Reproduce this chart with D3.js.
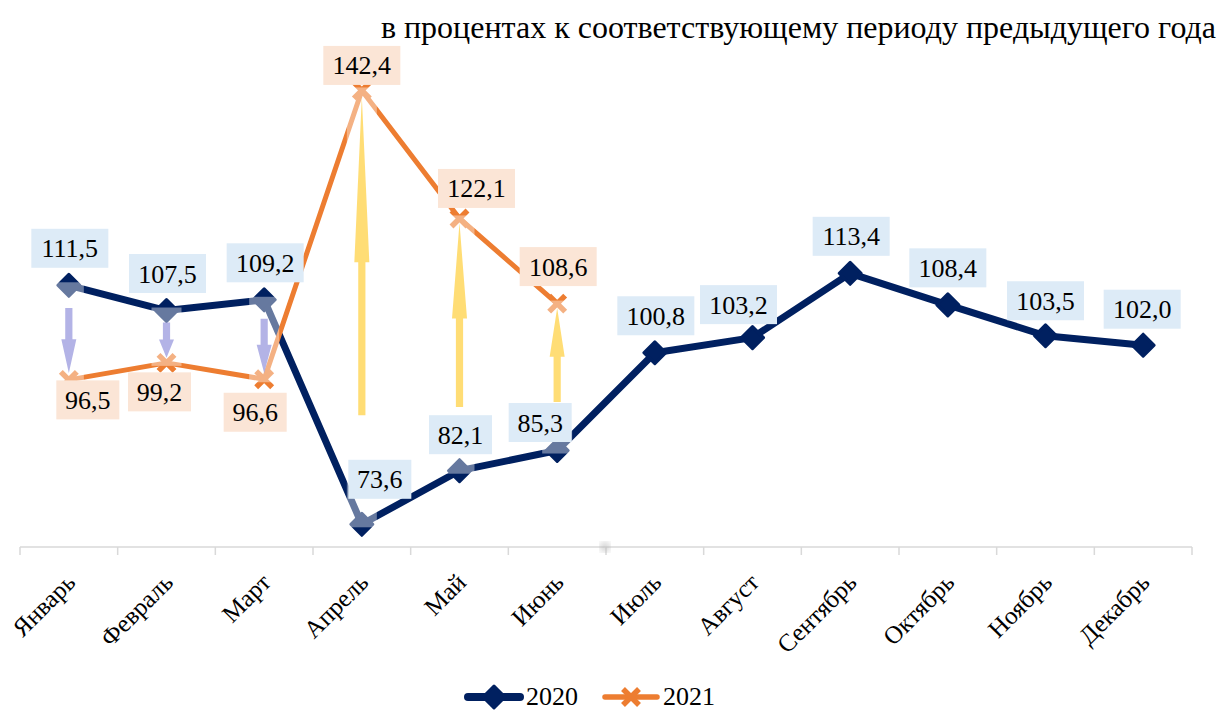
<!DOCTYPE html>
<html>
<head>
<meta charset="utf-8">
<script src="https://cdn.jsdelivr.net/npm/d3@7/dist/d3.min.js"></script>
<style>
  #viz text { font-family: "Liberation Serif", serif; }
</style>
</head>
<body style="margin:0">
<svg id="viz" width="1222" height="711"></svg>
<script>
// ---------- data ----------
const months = ["Январь","Февраль","Март","Апрель","Май","Июнь","Июль","Август","Сентябрь","Октябрь","Ноябрь","Декабрь"];
const values2020 = [111.5, 107.5, 109.2, 73.6, 82.1, 85.3, 100.8, 103.2, 113.4, 108.4, 103.5, 102.0];
const values2021 = [96.5, 99.2, 96.6, 142.4, 122.1, 108.6];
const seriesNames = ["2020", "2021"];
const titleText = "в процентах к соответствующему периоду предыдущего года";
// change arrows (from / to, in index units)
const arrowFrom = [107.9, 105.6, 106.2, 90.9, 92.2, 93.0];
const arrowTo   = [97.6, 100.0, 97.6, 141.4, 121.4, 107.9];

// ---------- layout (not data) ----------
const colors = { s2020: "#002060", s2021: "#ED7D31", lab2020: "#DDEBF7", lab2021: "#FBE5D6",
                 axis: "#D9D9D9", down: "#9999DD", up: "#FFD966" };
const off2020 = [[1,-37],[1,-37],[1,-37],[18,-45],[1,-36],[-17,-28],[1,-37],[-14,-33],[1,-37],[0,-37],[0,-35],[-1,-36]];
const off2021 = [[19,20],[-7,29],[-9,33],[0,-25],[17,-30],[1,-37]];

const svg = d3.select("#viz");
const x = d3.scalePoint().domain(months).range([20, 1192]).padding(0.5);
const band = d3.scaleBand().domain(months).range([20, 1192]);
const y = d3.scaleLinear().domain([70, 150]).range([547, 42.5]);

function txt(sel, size) {
  return sel.style("font-family", "\"Liberation Serif\"").style("font-size", size + "px").attr("fill", "#000");
}

// title
txt(svg.append("text"), 32).attr("x", 1216).attr("y", 38).attr("text-anchor", "end").text(titleText);

// axis line + ticks
const axisG = svg.append("g");
axisG.append("line").attr("x1", band.range()[0]).attr("x2", band.range()[1])
  .attr("y1", y(70)).attr("y2", y(70)).attr("stroke", colors.axis).attr("stroke-width", 1.5);
const tickXs = months.map(m => band(m)).concat([band.range()[1]]);
axisG.selectAll("line.tick").data(tickXs).join("line").attr("class","tick")
  .attr("x1", d => d).attr("x2", d => d).attr("y1", y(70)).attr("y2", y(70) + 8)
  .attr("stroke", colors.axis).attr("stroke-width", 1.5);
txt(axisG.selectAll("text.cat").data(months).join("text").attr("class","cat"), 25)
  .attr("text-anchor", "end")
  .attr("transform", d => `translate(${x(d) + 8},${y(70) + 37}) rotate(-45)`)
  .text(d => d);

// faint artifact on axis
const defs = svg.append("defs");
defs.append("filter").attr("id","blur").append("feGaussianBlur").attr("stdDeviation", 3);
svg.append("circle").attr("cx", 605).attr("cy", 547).attr("r", 5).attr("fill", "#bbb")
  .attr("filter", "url(#blur)").attr("opacity", 0.7);

const line = d3.line().x((d, i) => x(months[i])).y(d => y(d));

// 2020 series
const diamond = (s) => `M0,${-s}L${s},0L0,${s}L${-s},0Z`;
svg.append("path").datum(values2020).attr("d", line).attr("fill", "none")
  .attr("stroke", colors.s2020).attr("stroke-width", 7).attr("stroke-linejoin", "round");
svg.selectAll("path.m20").data(values2020).join("path").attr("class","m20")
  .attr("d", diamond(11)).attr("transform", (d, i) => `translate(${x(months[i])},${y(d)})`)
  .attr("fill", colors.s2020).attr("stroke", colors.s2020).attr("stroke-width", 3).attr("stroke-linejoin", "round");

// 2021 series
const cross = (s) => `M${-s},${-s}L${s},${s}M${s},${-s}L${-s},${s}`;
svg.append("path").datum(values2021).attr("d", line).attr("fill", "none")
  .attr("stroke", colors.s2021).attr("stroke-width", 5).attr("stroke-linejoin", "round");
svg.selectAll("path.m21").data(values2021).join("path").attr("class","m21")
  .attr("d", cross(8)).attr("transform", (d, i) => `translate(${x(months[i])},${y(d)})`)
  .attr("fill", "none").attr("stroke", colors.s2021).attr("stroke-width", 5.5);

// arrows with translucent panels
const arrowG = svg.append("g");
arrowFrom.forEach((f, i) => {
  const cx = x(months[i]);
  const a = values2020[i], b = values2021[i];
  const top = Math.min(y(a), y(b)) - 3, bot = Math.max(y(a), y(b)) + 3;
  arrowG.append("rect").attr("x", cx - 15).attr("y", top).attr("width", 30).attr("height", bot - top)
    .attr("fill", "#ffffff").attr("opacity", 0.4);
  const y0 = y(f), y1 = y(arrowTo[i]);
  const len = y1 - y0;
  const headLen = len * 0.52;
  const sw = 3.6, hw = 7.5;
  const yh = y1 - headLen;
  const p = `M${cx - sw},${y0}L${cx + sw},${y0}L${cx + sw},${yh}L${cx + hw},${yh}L${cx},${y1}L${cx - hw},${yh}L${cx - sw},${yh}Z`;
  arrowG.append("path").attr("d", p)
    .attr("fill", b < a ? colors.down : colors.up).attr("opacity", b < a ? 0.75 : 0.9);
});

// labels
function addLabels(vals, offs, bg) {
  const g = svg.append("g");
  vals.forEach((v, i) => {
    const cx = x(months[i]) + offs[i][0], cy = y(v) + offs[i][1];
    const t = v.toFixed(1).replace(".", ",");
    const tw = t.length === 5 ? 77 : 63;
    g.append("rect").attr("x", cx - tw / 2).attr("y", cy - 19.5).attr("width", tw).attr("height", 39).attr("fill", bg);
    txt(g.append("text"), 26).attr("x", cx).attr("y", cy + 9).attr("text-anchor", "middle").text(t);
  });
}
addLabels(values2020, off2020, colors.lab2020);
addLabels(values2021, off2021, colors.lab2021);

// legend
const leg = svg.append("g");
const legItems = [
  { name: seriesNames[0], x0: 465, color: colors.s2020, w: 8, marker: diamond(11), fill: colors.s2020, sw: 3 },
  { name: seriesNames[1], x0: 602, color: colors.s2021, w: 5.5, marker: cross(8), fill: "none", sw: 5.5 }
];
legItems.forEach(it => {
  leg.append("line").attr("x1", it.x0 + 3).attr("x2", it.x0 + 55).attr("y1", 697).attr("y2", 697)
    .attr("stroke", it.color).attr("stroke-width", it.w).attr("stroke-linecap", "round");
  leg.append("path").attr("d", it.marker).attr("transform", `translate(${it.x0 + 29},697)`)
    .attr("fill", it.fill).attr("stroke", it.color).attr("stroke-width", it.sw).attr("stroke-linejoin", "round");
  txt(leg.append("text"), 26).attr("x", it.x0 + 61).attr("y", 705).text(it.name);
});
</script>
</body>
</html>
